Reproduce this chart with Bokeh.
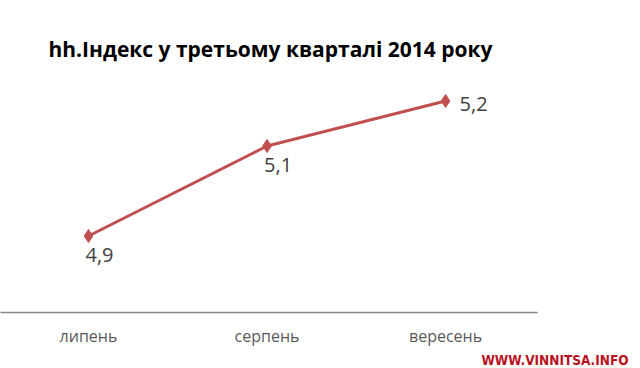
from bokeh.plotting import figure
from bokeh.models import Range1d, FixedTicker, ColumnDataSource, Title
from bokeh.embed import file_html
from bokeh.resources import INLINE
from bokeh.core.properties import value

categories = ["липень", "серпень", "вересень"]
values = [4.9, 5.1, 5.2]
value_labels = ["4,9", "5,1", "5,2"]
title_text = "hh.Індекс у третьому кварталі 2014 року"
watermark = "WWW.VINNITSA.INFO"

xs = list(range(len(categories)))

p = figure(width=640, height=368, output_backend="svg", toolbar_location=None,
           x_range=Range1d(-0.493, 2.515), y_range=Range1d(4.73, 5.2456),
           min_border_left=0, min_border_right=103, min_border_top=80,
           min_border_bottom=56)

p.title.text = title_text
p.title.text_font = "Open Sans"
p.title.text_font_style = "bold"
p.title.text_font_size = "21px"
p.title.text_color = "#000000"
p.title.offset = 48
p.title.standoff = 35

p.yaxis.visible = False
p.grid.visible = False
p.outline_line_color = None
p.background_fill_color = "white"
p.border_fill_color = "white"

ax = p.xaxis[0]
ax.ticker = FixedTicker(ticks=xs)
ax.major_label_overrides = {i: c for i, c in zip(xs, categories)}
ax.major_tick_line_color = None
ax.minor_tick_line_color = None
ax.axis_line_color = "#868686"
ax.axis_line_width = 1.5
ax.major_label_text_font = "Open Sans"
ax.major_label_text_font_size = "16px"
ax.major_label_text_color = "#595959"
ax.major_label_standoff = 6

p.line(xs, values, line_color="#C0504D", line_width=3)
p.scatter(xs, values, marker="diamond", size=13, fill_color="#C0504D", line_color="#C0504D")

below = ColumnDataSource(dict(x=xs[:2], y=values[:2], t=value_labels[:2]))
right = ColumnDataSource(dict(x=xs[2:], y=values[2:], t=value_labels[2:]))
common = dict(text="t", text_font=value("Open Sans"), text_font_size="20px",
              text_color="#404040")
p.text(x="x", y="y", source=below, text_align="left", text_baseline="top",
       x_offset=-3, y_offset=12, **common)
p.text(x="x", y="y", source=right, text_align="left", text_baseline="middle",
       x_offset=14, y_offset=3, **common)

wm = Title(text=watermark, align="right", offset=-91, standoff=0,
           text_font="DejaVu Sans Condensed", text_font_style="bold",
           text_font_size="13.5px", text_color="#B8121E")
p.add_layout(wm, "below")

open("out.html", "w").write(file_html(p, INLINE))
